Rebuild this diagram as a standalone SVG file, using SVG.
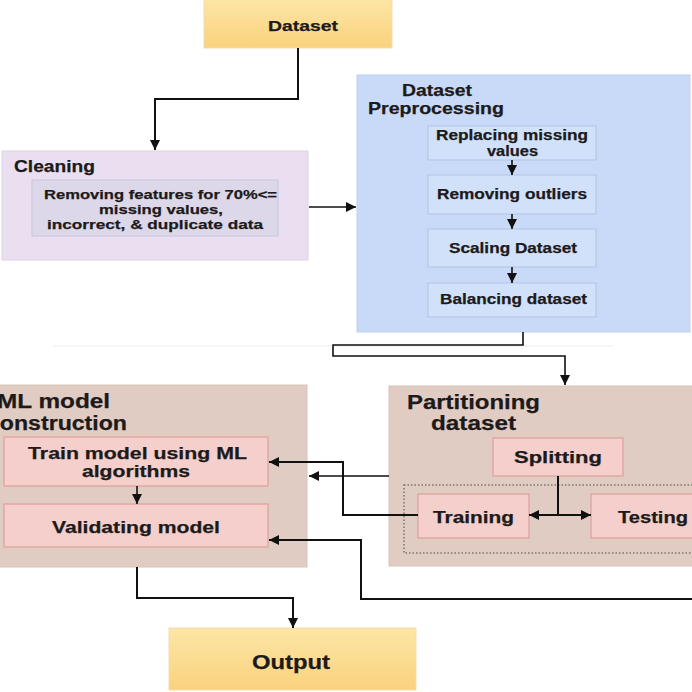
<svg xmlns="http://www.w3.org/2000/svg" width="692" height="692" viewBox="0 0 692 692">
<style>
text{font-family:"Liberation Sans",Arial,sans-serif;font-weight:bold;fill:#1c1a1a;stroke:#1c1a1a;stroke-width:0.25}
.c{stroke:#111;stroke-width:2;fill:none}
.t{stroke:#111;stroke-width:1.6;fill:none}
.y{fill:url(#gy);stroke:#f2dcae;stroke-width:1}
.lav{fill:#e9dff0;stroke:#ddd3e4;stroke-width:1}
.lavi{fill:#dcd8ea;stroke:#c9c5d9;stroke-width:1}
.blu{fill:#c9d9f8;stroke:#c0d0ee;stroke-width:1}
.blui{fill:#d2e1fa;stroke:#b6c8e6;stroke-width:1.2}
.tan{fill:#e1ccc3;stroke:#d9c2b8;stroke-width:1}
.pink{fill:#f4cfcb;stroke:#dfa3a0;stroke-width:1.3}
</style>
<defs>
<linearGradient id="gy" x1="0" y1="0" x2="0" y2="1">
<stop offset="0" stop-color="#fde6a6"/>
<stop offset="1" stop-color="#f9d27d"/>
</linearGradient>
<marker id="a" viewBox="0 0 10 10" refX="10" refY="5" markerWidth="10" markerHeight="10" markerUnits="userSpaceOnUse" orient="auto-start-reverse">
<path d="M0,0 L10,5 L0,10 Z" fill="#111"/>
</marker>
</defs>
<rect width="692" height="692" fill="#ffffff"/>
<line x1="53" y1="346" x2="613" y2="346" stroke="#ececec" stroke-width="1.2"/>

<g id="dataset">
<rect class="y" x="204" y="-2" width="188" height="50"/>
<text x="268" y="31" font-size="15" textLength="70" lengthAdjust="spacingAndGlyphs">Dataset</text>
</g>

<g id="cleaning">
<rect class="lav" x="2" y="151" width="306" height="109"/>
<text x="14" y="172" font-size="17" textLength="81" lengthAdjust="spacingAndGlyphs">Cleaning</text>
<rect class="lavi" x="32" y="180" width="246" height="56"/>
<text x="44" y="199" font-size="13" textLength="233" lengthAdjust="spacingAndGlyphs">Removing features for 70%&lt;=</text>
<text x="99" y="214" font-size="13" textLength="124" lengthAdjust="spacingAndGlyphs">missing values,</text>
<text x="47" y="229" font-size="13" textLength="216" lengthAdjust="spacingAndGlyphs">incorrect, &amp; duplicate data</text>
</g>

<g id="preprocessing">
<rect class="blu" x="357" y="75" width="333" height="257"/>
<text x="402" y="96" font-size="17" textLength="70" lengthAdjust="spacingAndGlyphs">Dataset</text>
<text x="368" y="114" font-size="17" textLength="136" lengthAdjust="spacingAndGlyphs">Preprocessing</text>
<g id="replacing">
<rect class="blui" x="428" y="126" width="168" height="34"/>
<text x="436" y="140" font-size="14" textLength="152" lengthAdjust="spacingAndGlyphs">Replacing missing</text>
<text x="487" y="156" font-size="14" textLength="51" lengthAdjust="spacingAndGlyphs">values</text>
</g>
<g id="outliers">
<rect class="blui" x="428" y="175" width="168" height="39"/>
<text x="437" y="199" font-size="14" textLength="150" lengthAdjust="spacingAndGlyphs">Removing outliers</text>
</g>
<g id="scaling">
<rect class="blui" x="428" y="229" width="168" height="38"/>
<text x="449" y="253" font-size="14" textLength="128" lengthAdjust="spacingAndGlyphs">Scaling Dataset</text>
</g>
<g id="balancing">
<rect class="blui" x="428" y="283" width="168" height="34"/>
<text x="440" y="304" font-size="14" textLength="147" lengthAdjust="spacingAndGlyphs">Balancing dataset</text>
</g>
</g>

<g id="partitioning">
<rect class="tan" x="389" y="386" width="310" height="180"/>
<text x="407" y="409" font-size="20" textLength="133" lengthAdjust="spacingAndGlyphs">Partitioning</text>
<text x="431" y="430" font-size="20" textLength="85" lengthAdjust="spacingAndGlyphs">dataset</text>
<rect x="404" y="485" width="300" height="68" fill="none" stroke="#7a7470" stroke-width="1.5" stroke-dasharray="1.5 2"/>
<g id="splitting">
<rect class="pink" x="493" y="438" width="130" height="38"/>
<text x="514" y="463" font-size="17" textLength="88" lengthAdjust="spacingAndGlyphs">Splitting</text>
</g>
<g id="training">
<rect class="pink" x="418" y="494" width="111" height="44"/>
<text x="433" y="523" font-size="17" textLength="81" lengthAdjust="spacingAndGlyphs">Training</text>
</g>
<g id="testing">
<rect class="pink" x="591" y="494" width="110" height="44"/>
<text x="618" y="523" font-size="17" textLength="70" lengthAdjust="spacingAndGlyphs">Testing</text>
</g>
</g>

<g id="ml">
<rect class="tan" x="-2" y="385" width="309" height="182"/>
<text x="-3" y="408" font-size="20" textLength="113" lengthAdjust="spacingAndGlyphs">ML model</text>
<text x="-13" y="430" font-size="20" textLength="140" lengthAdjust="spacingAndGlyphs">construction</text>
<g id="train">
<rect class="pink" x="4" y="437" width="264" height="49"/>
<text x="28" y="459" font-size="17" textLength="219" lengthAdjust="spacingAndGlyphs">Train model using ML</text>
<text x="82" y="477" font-size="17" textLength="108" lengthAdjust="spacingAndGlyphs">algorithms</text>
</g>
<g id="validating">
<rect class="pink" x="4" y="504" width="264" height="43"/>
<text x="52" y="533" font-size="17" textLength="168" lengthAdjust="spacingAndGlyphs">Validating model</text>
</g>
</g>

<g id="output">
<rect class="y" x="169" y="628" width="247" height="62"/>
<text x="252" y="669" font-size="20" textLength="78" lengthAdjust="spacingAndGlyphs">Output</text>
</g>

<g id="connectors">
<path class="c" d="M298,48 V99 H155 V150" marker-end="url(#a)"/>
<path class="t" d="M309,207 H356" marker-end="url(#a)"/>
<path class="t" d="M512,160 V175" marker-end="url(#a)"/>
<path class="t" d="M512,214 V229" marker-end="url(#a)"/>
<path class="t" d="M512,267 V283" marker-end="url(#a)"/>
<path class="t" d="M523,332 V345 H333 V356 H565 V385" marker-end="url(#a)"/>
<path class="c" d="M558,476 V515"/>
<path class="c" d="M558,515 H529" marker-end="url(#a)"/>
<path class="c" d="M558,515 H591" marker-end="url(#a)"/>
<path class="c" d="M418,515 H343 V462 H269" marker-end="url(#a)"/>
<path class="t" d="M389,476 H309" marker-end="url(#a)"/>
<path class="c" d="M692,599 H361 V540 H269" marker-end="url(#a)"/>
<path class="t" d="M137,486 V504" marker-end="url(#a)"/>
<path class="c" d="M137,567 V598 H293 V628" marker-end="url(#a)"/>
</g>
</svg>
